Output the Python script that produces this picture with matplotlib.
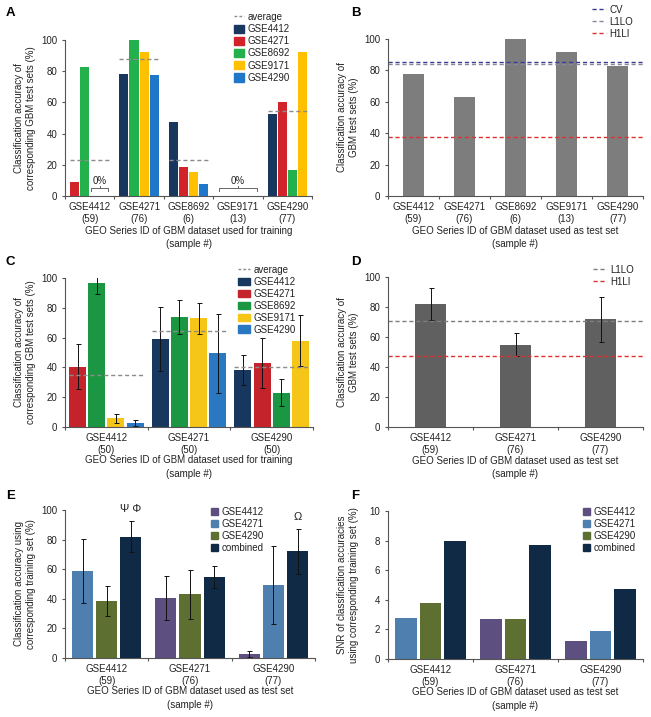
import matplotlib
matplotlib.use("Agg")
import matplotlib.pyplot as plt
from matplotlib.patches import Patch
from matplotlib.lines import Line2D

plt.rcParams['font.family'] = ['Liberation Sans', 'DejaVu Sans']
plt.rcParams['font.size'] = 7

W, H = 651, 717

# ---- data ----
series_5 = ['GSE4412', 'GSE4271', 'GSE8692', 'GSE9171', 'GSE4290']
colors_a = ['#17375e', '#d2232a', '#22b14c', '#ffc000', '#1f77c9']
colors_c = ['#17375e', '#c4232b', '#1b9643', '#f5c518', '#2a78c2']

groups_a = ['GSE4412\n(59)', 'GSE4271\n(76)', 'GSE8692\n(6)', 'GSE9171\n(13)', 'GSE4290\n(77)']
# rows = training set, columns = test set (None = same set, not shown)
acc_a = [[None, 9, 83, 0, 0],
         [78, None, 100, 92.5, 77.5],
         [47.5, 18.5, None, 15.5, 8],
         [0, 0, 0, None, 0],
         [52.5, 60.5, 16.5, 92.5, None]]
avg_a = [23, 88, 23, None, 54.5]

groups_b = ['GSE4412\n(59)', 'GSE4271\n(76)', 'GSE8692\n(6)', 'GSE9171\n(13)', 'GSE4290\n(77)']
acc_b = [78, 63, 100, 92, 83]
cv_b = 85.5
l1lo_b = 84
h1li_b = 37.5

groups_c = ['GSE4412\n(50)', 'GSE4271\n(50)', 'GSE4290\n(50)']
acc_c = [[None, 40.5, 96.5, 6, 2.5],
         [59, None, 74, 73, 49.5],
         [38.5, 43, 23, 58, None]]
err_c = [[None, 15, 7, 3, 2],
         [21.5, None, 11.5, 10.5, 26.5],
         [10, 16.5, 9, 17, None]]
avg_c = [35, 64.5, 40.5]

groups_d = ['GSE4412\n(59)', 'GSE4271\n(76)', 'GSE4290\n(77)']
acc_d = [82, 55, 72]
err_d = [10.5, 7.5, 15]
l1lo_d = 70.5
h1li_d = 47.5

groups_e = ['GSE4412\n(59)', 'GSE4271\n(76)', 'GSE4290\n(77)']
series_e = ['GSE4412', 'GSE4271', 'GSE4290', 'combined']
colors_e = ['#5d4f7f', '#4f7fae', '#5e7031', '#102a46']
# rows = test set, columns = training set
acc_e = [[None, 59, 38.5, 82],
         [40.5, None, 43, 55],
         [2.5, 49.5, None, 72]]
err_e = [[None, 21.5, 10, 10.5],
         [15, None, 16.5, 7.5],
         [2, 26.5, None, 15]]
marks_e = {0: '\u03a8 \u03a6', 2: '\u03a9'}

snr_f = [[None, 2.75, 3.8, 7.95],
         [2.7, None, 2.7, 7.7],
         [1.2, 1.9, None, 4.75]]

AX_COL = '#555555'
TXT = '#222222'


def axes_px(left, top, right, bottom):
    return fig.add_axes([left / W, 1 - bottom / H, (right - left) / W, (bottom - top) / H])


def style(ax, ngroups, labels, ymax, ystep, ylabel, xlabel, lw_px):
    for s in ['top', 'right']:
        ax.spines[s].set_visible(False)
    for s in ['left', 'bottom']:
        ax.spines[s].set_color(AX_COL)
        ax.spines[s].set_linewidth(0.8)
    ax.set_xlim(0, ngroups)
    ax.set_ylim(0, ymax)
    ax.set_yticks([i * ystep for i in range(int(round(ymax / ystep)) + 1)])
    ax.set_xticks([i + 0.5 for i in range(ngroups)])
    ax.set_xticklabels(labels, linespacing=1.25)
    ax.set_xticks(range(ngroups + 1), minor=True)
    ax.tick_params(axis='x', which='major', length=0, pad=4, colors=TXT)
    ax.tick_params(axis='x', which='minor', length=2.5, color=AX_COL, width=0.8)
    ax.tick_params(axis='y', length=2.5, color=AX_COL, width=0.8, pad=3, labelcolor=TXT)
    ax.set_ylabel(ylabel, linespacing=1.2, color=TXT)
    ax.yaxis.set_label_coords(-29 / lw_px, 0.5)
    ax.set_xlabel(xlabel, linespacing=1.45, color=TXT)
    ax.xaxis.set_label_coords(0.5, -0.19)


def legend(ax, handles, labels, x_px, y_px, hl, hh, ls):
    ax.legend(handles, labels, loc='upper left', bbox_to_anchor=(x_px / W, 1 - y_px / H),
              bbox_transform=fig.transFigure, frameon=False, borderpad=0, borderaxespad=0,
              handlelength=hl, handleheight=hh, handletextpad=0.35, labelspacing=ls,
              fontsize=7, labelcolor=TXT)


def grouped(ax, rows, colors, step, width, errs=None):
    # draw grouped bars, skipping the None entries
    for g, row in enumerate(rows):
        idx = [k for k, v in enumerate(row) if v is not None]
        n = len(idx)
        for j, k in enumerate(idx):
            x = g + 0.5 + (j - (n - 1) / 2) * step
            e = None if errs is None else errs[g][k]
            ax.bar(x, row[k], width=width, color=colors[k], edgecolor='none',
                   yerr=e, error_kw=dict(ecolor='#111111', elinewidth=0.7, capsize=1.8, capthick=0.7))


fig = plt.figure(figsize=(W / 100, H / 100), dpi=100)

lab_train = 'GEO Series ID of GBM dataset used for training\n(sample #)'
lab_test = 'GEO Series ID of GBM dataset used as test set\n(sample #)'
lab_acc1 = 'Classification accuracy of\ncorresponding GBM test sets (%)'
lab_acc2 = 'Classification accuracy of\nGBM test sets (%)'

# ---- A ----
axA = axes_px(65, 40, 312, 196)
step_a, w_a = 0.205, 0.185
grouped(axA, acc_a, colors_a, step_a, w_a)
for g, row in enumerate(acc_a):
    idx = [k for k, v in enumerate(row) if v is not None]
    n = len(idx)
    pos = [g + 0.5 + (j - (n - 1) / 2) * step_a for j in range(n)]
    if avg_a[g] is not None:
        axA.plot([pos[0] - w_a / 2, pos[-1] + w_a / 2], [avg_a[g]] * 2, ls='--', color='#8c8c8c',
                 lw=1.0, dashes=(3, 2))
    # bracket over consecutive zero results
    zeros = [j for j, k in enumerate(idx) if row[k] == 0]
    if zeros:
        x0 = pos[zeros[0]] - w_a / 2 + 0.02
        x1 = pos[zeros[-1]] + w_a / 2 - 0.02
        axA.plot([x0, x0, x1, x1], [3.2, 5, 5, 3.2], color='#666666', lw=0.7)
        axA.plot([(x0 + x1) / 2] * 2, [5, 6.2], color='#666666', lw=0.7)
        axA.text((x0 + x1) / 2, 9.5, '0%', ha='center', va='center', fontsize=7, color=TXT)
style(axA, 5, groups_a, 100, 20, lab_acc1, lab_train, 247)
legend(axA, [Line2D([], [], ls='--', color='#8c8c8c', lw=1.0, dashes=(2, 1.5))] +
       [Patch(color=c) for c in colors_a], ['average'] + series_5, 234, 12, 1.05, 0.95, 0.22)

# ---- B ----
axB = axes_px(388, 39, 643, 196)
axB.bar([i + 0.5 for i in range(len(acc_b))], acc_b, width=0.43, color='#7d7d7d')
axB.axhline(cv_b, color='#3c3c96', ls='--', lw=1.0, dashes=(3, 2))
axB.axhline(l1lo_b, color='#8a8a9c', ls='--', lw=1.0, dashes=(3, 2))
axB.axhline(h1li_b, color='#e0322c', ls='--', lw=1.0, dashes=(3, 2))
style(axB, 5, groups_b, 100, 20, lab_acc2, lab_test, 255)
legend(axB, [Line2D([], [], color='#3c3c96', ls='--', lw=1.0, dashes=(3, 2)),
             Line2D([], [], color='#8a8a9c', ls='--', lw=1.0, dashes=(3, 2)),
             Line2D([], [], color='#e0322c', ls='--', lw=1.0, dashes=(3, 2))],
       ['CV', 'L1LO', 'H1LI'], 592, 5, 1.4, 0.8, 0.2)

# ---- C ----
axC = axes_px(65, 278, 313, 427)
step_c, w_c = 0.232, 0.205
grouped(axC, acc_c, colors_c, step_c, w_c, err_c)
for g, row in enumerate(acc_c):
    n = sum(v is not None for v in row)
    x0 = g + 0.5 - (n - 1) / 2 * step_c - w_c / 2
    x1 = g + 0.5 + (n - 1) / 2 * step_c + w_c / 2
    axC.plot([x0, x1], [avg_c[g]] * 2, ls='--', color='#8c8c8c', lw=1.0, dashes=(3, 2))
style(axC, 3, groups_c, 100, 20, lab_acc1, lab_train, 248)
legend(axC, [Line2D([], [], ls='--', color='#8c8c8c', lw=1.0, dashes=(2, 1.5))] +
       [Patch(color=c) for c in colors_c], ['average'] + series_5, 238, 265, 1.25, 0.85, 0.2)

# ---- D ----
axD = axes_px(388, 277, 643, 427)
axD.bar([i + 0.5 for i in range(len(acc_d))], acc_d, width=0.36, color='#606060',
        yerr=err_d, error_kw=dict(ecolor='#111111', elinewidth=0.7, capsize=1.8, capthick=0.7))
axD.axhline(l1lo_d, color='#7e7e7e', ls='--', lw=1.0, dashes=(3, 2))
axD.axhline(h1li_d, color='#e0322c', ls='--', lw=1.0, dashes=(3, 2))
style(axD, 3, groups_d, 100, 20, lab_acc2, lab_test, 255)
legend(axD, [Line2D([], [], color='#7e7e7e', ls='--', lw=1.0, dashes=(3, 2)),
             Line2D([], [], color='#e0322c', ls='--', lw=1.0, dashes=(3, 2))],
       ['L1LO', 'H1LI'], 593, 265, 1.4, 0.8, 0.2)

# ---- E ----
axE = axes_px(65, 510, 315, 658)
step_e, w_e = 0.29, 0.255
grouped(axE, acc_e, colors_e, step_e, w_e, err_e)
for g, txt in marks_e.items():
    axE.text(g + 0.5 + step_e, 101 if g == 0 else 95, txt, ha='center', va='center',
             fontsize=8, color=TXT)
style(axE, 3, groups_e, 100, 20, 'Classification accuracy using\ncorresponding training set (%)',
      lab_test, 250)
legend(axE, [Patch(color=c) for c in colors_e], series_e, 211, 507, 0.75, 0.75, 0.2)

# ---- F ----
axF = axes_px(388, 511, 643, 659)
grouped(axF, snr_f, colors_e, step_e, w_e)
style(axF, 3, groups_e, 10, 2, 'SNR of classification accuracies\nusing corresponding training set (%)',
      lab_test, 255)
legend(axF, [Patch(color=c) for c in colors_e], series_e, 583, 507, 0.75, 0.75, 0.2)

# panel letters
for letter, x, y in [('A', 6, 7), ('B', 351, 7), ('C', 6, 256), ('D', 351, 256),
                     ('E', 6, 490), ('F', 351, 490)]:
    fig.text(x / W, 1 - y / H, letter, fontsize=9.5, fontweight='bold', va='top', ha='left')

fig.savefig('out.png', dpi=100)
